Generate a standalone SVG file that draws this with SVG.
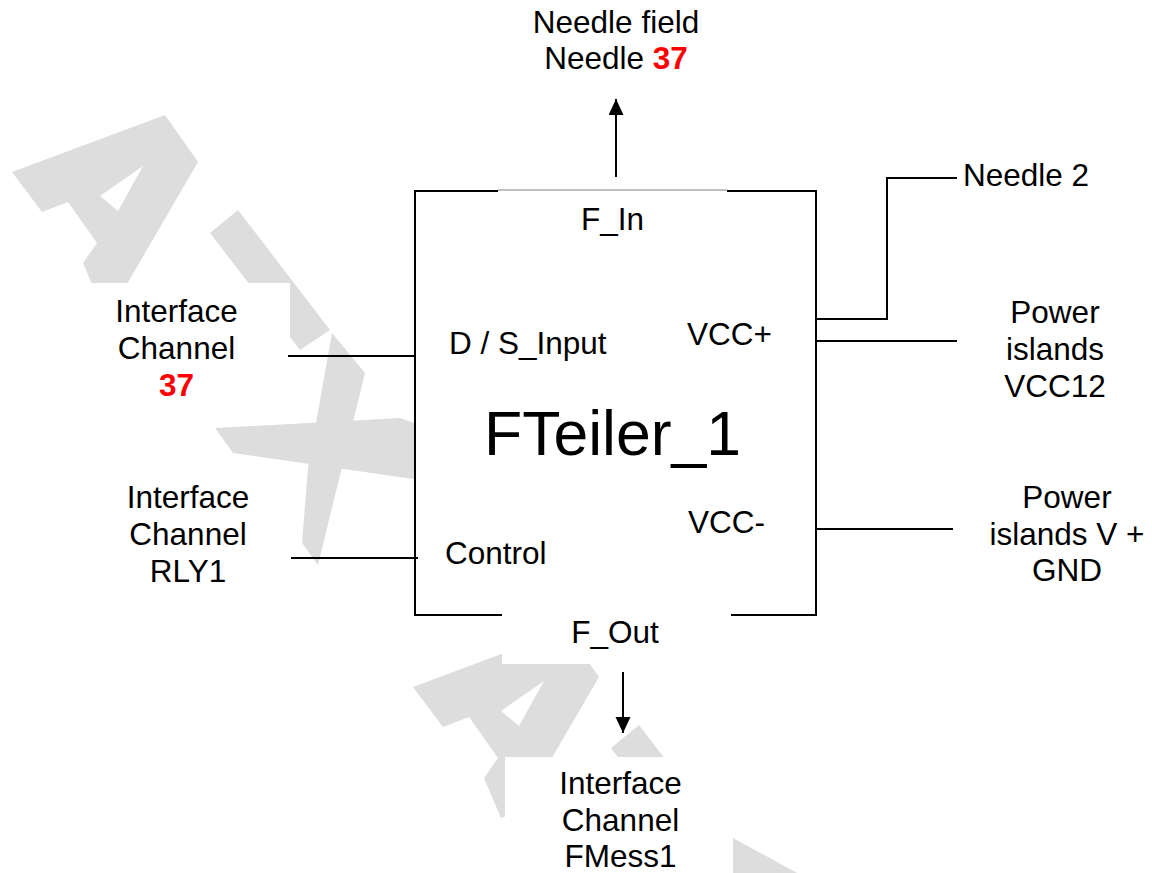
<svg xmlns="http://www.w3.org/2000/svg" width="1152" height="873" viewBox="0 0 1152 873">
<style>
text{font-family:"Liberation Sans",Arial,sans-serif;font-size:31.5px;fill:#000}
.mid{text-anchor:middle}
.red{fill:#ff0000;font-weight:bold}
.big{font-size:62.5px}
.ln{stroke:#000;stroke-width:2;fill:none}
.wm{fill:#dddddd;stroke:none}
.wbox{fill:#ffffff;stroke:none}
</style>
<defs>
<marker id="arr" markerUnits="userSpaceOnUse" markerWidth="16" markerHeight="16" refX="16" refY="7.5" orient="auto">
<path d="M0,0 L16,7.5 L0,15 z" fill="#000"/>
</marker>
</defs>
<rect width="1152" height="873" fill="#ffffff"/>
<g id="watermark">
<path class="wm" fill-rule="evenodd" d="M12,172 L165,115 L198,162 L120,296 L100,303 L83,263 L97,243 L68,202 L42,212 Z M100,196 L143,166 L118,211 Z"/>
<polygon class="wm" points="210,233 238,210 330,330 300,350"/>
<polygon class="wm" points="332,333 365,373 318,565 302,543 308,468"/>
<polygon class="wm" points="215,428 400,418 420,425 420,480 233,453"/>
<path class="wm" fill-rule="evenodd" d="M413,687 L566,630 L599,677 L521,811 L501,818 L484,778 L498,758 L469,717 L443,727 Z M501,711 L544,681 L519,726 Z"/>
<polygon class="wm" points="611,748 639,725 731,845 701,865"/>
<polygon class="wm" points="733,838 797,873 733,873"/>
<rect class="wbox" x="60" y="283" width="230" height="132"/>
<rect class="wbox" x="90" y="468" width="212" height="130"/>
<rect class="wbox" x="502" y="600" width="228" height="64"/>
<rect class="wbox" x="505" y="757" width="228" height="116"/>
</g>
<g id="FTeiler_1">
<rect x="415" y="191" width="401" height="424" fill="#ffffff"/>
<path class="ln" d="M415,190 V616 M816,190 V616 M414,191 H498 M727,191 H817 M414,615 H502 M731,615 H817"/>
<path d="M498,190 H727" stroke="#808080" stroke-width="1" fill="none"/>
<text class="mid" x="612.5" y="230">F_In</text>
<text x="449" y="354">D / S_Input</text>
<text x="687" y="345">VCC+</text>
<text class="mid big" x="612.5" y="455">FTeiler_1</text>
<text x="688" y="533">VCC-</text>
<text x="445" y="564">Control</text>
<text class="mid" x="615" y="643">F_Out</text>
</g>
<g id="needle-field">
<text class="mid" x="616" y="33">Needle field</text>
<text class="mid" x="616" y="69">Needle <tspan class="red">37</tspan></text>
</g>
<g id="interface-37">
<text class="mid" x="176.5" y="322">Interface</text>
<text class="mid" x="176.5" y="359">Channel</text>
<text class="mid red" x="176.5" y="396">37</text>
</g>
<g id="interface-rly1">
<text class="mid" x="188" y="508">Interface</text>
<text class="mid" x="188" y="545">Channel</text>
<text class="mid" x="188" y="582">RLY1</text>
</g>
<g id="interface-fmess1">
<text class="mid" x="620.5" y="794">Interface</text>
<text class="mid" x="620.5" y="831">Channel</text>
<text class="mid" x="620.5" y="867">FMess1</text>
</g>
<g id="needle-2">
<text x="963" y="186">Needle 2</text>
</g>
<g id="power-vcc12">
<text class="mid" x="1055" y="323">Power</text>
<text class="mid" x="1055" y="360">islands</text>
<text class="mid" x="1055" y="397">VCC12</text>
</g>
<g id="power-gnd">
<text class="mid" x="1067" y="508">Power</text>
<text class="mid" x="1067" y="545">islands V +</text>
<text class="mid" x="1067" y="581">GND</text>
</g>
<g id="connectors">
<line class="ln" x1="616" y1="177" x2="616" y2="99" marker-end="url(#arr)"/>
<line class="ln" x1="623" y1="672" x2="623" y2="733" marker-end="url(#arr)"/>
<line class="ln" x1="288" y1="356" x2="415" y2="356"/>
<line class="ln" x1="291" y1="558" x2="418" y2="558"/>
<polyline class="ln" points="816,319 887,319 887,178 957,178"/>
<line class="ln" x1="816" y1="341" x2="957" y2="341"/>
<line class="ln" x1="816" y1="529" x2="953" y2="529"/>
</g>
</svg>
